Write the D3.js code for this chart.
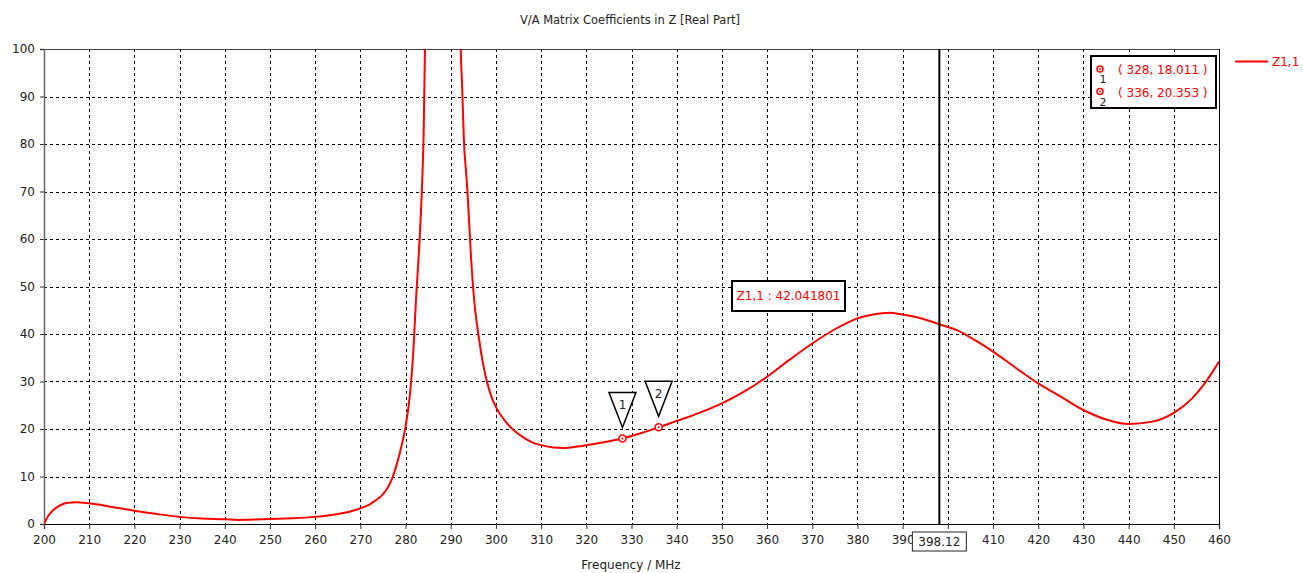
<!DOCTYPE html>
<html>
<head>
<meta charset="UTF-8">
<title>V/A Matrix Coefficients in Z [Real Part]</title>
<script src="https://d3js.org/d3.v7.min.js"></script>
<style>
    body {
        margin: 0;
        background: #fff;
        font-family: "DejaVu Sans", Tahoma, sans-serif;
    }
    .grid line {
        stroke: #000;
        stroke-dasharray: 3,3;
        shape-rendering: crispEdges;
    }
</style>
</head>
<body>
<svg id="main" width="1303" height="573"></svg>
<script>
// frequency (MHz) and Z1,1 real part
var freq = [200, 200.5, 201, 202, 203, 204, 205, 207, 210, 215, 220, 225, 230, 235, 240, 243, 245, 250, 255, 260,
    265, 268, 270, 272, 273, 274, 275, 276, 277, 278, 279, 280, 281, 281.7, 282.3, 283, 283.6, 284, 284.3,
    285, 288, 291, 292.2, 292.6, 292.9, 293.4, 293.7, 294.5, 295.2, 296.1, 297, 298, 299, 300, 302, 304, 306,
    308, 310, 312.7, 315, 318, 322, 325, 328, 332, 336, 340, 345, 350, 355, 360, 365, 370, 375, 380, 385, 387,
    390, 394, 398.12, 402, 406, 410, 415, 420, 425, 430, 435, 440, 445, 450, 454, 457, 460];
var z11 = [0, 1.0, 1.8, 2.9, 3.6, 4.1, 4.4, 4.6, 4.35, 3.6, 2.8, 2.1, 1.5, 1.15, 1.0, 0.85, 0.9, 1.05, 1.2, 1.5,
    2.1, 2.7, 3.3, 4.1, 4.7, 5.4, 6.3, 7.6, 9.5, 12.4, 16, 20.5, 27.5, 36, 47, 58, 70, 82, 100,
    160, 300, 160, 100, 90, 81, 74, 70, 56, 47, 40, 34.5, 30, 26.8, 24.6, 21.7, 19.7, 18.3,
    17.2, 16.6, 16.1, 16.0, 16.3, 16.9, 17.4, 18.011, 19.1, 20.353, 21.7, 23.4, 25.4, 27.9, 31, 34.6, 38, 41, 43.3, 44.3, 44.5,
    44.1, 43.3, 42.041801, 40.8, 38.7, 36.3, 32.9, 29.6, 26.8, 24, 22, 21.05, 21.5, 23.4, 26.4, 29.8, 34.2];

var xTicks = d3.range(200, 461, 10);
var yTicks = d3.range(0, 101, 10);

var markerNames = ["1", "2"];
var markerFreq = [328, 336];
var markerVal = [18.011, 20.353];

var cursorFreq = 398.12;
var cursorVal = 42.041801;
var seriesName = "Z1,1";

var svg = d3.select("#main");
var pl = 44, pt = 49, pr = 1219, pb = 524;

var x = d3.scaleLinear().domain([200, 460]).range([pl, pr]);
var y = d3.scaleLinear().domain([0, 100]).range([pb, pt]);

// title
svg.append("text")
    .attr("x", 630).attr("y", 24)
    .attr("text-anchor", "middle")
    .style("font-size", "11.5px").style("fill", "#222")
    .text("V/A Matrix Coefficients in Z [Real Part]");

// grid
var grid = svg.append("g").attr("class", "grid");
grid.selectAll(".vx").data(xTicks.slice(1, -1)).enter().append("line")
    .attr("x1", d => Math.round(x(d)) + 0.5).attr("x2", d => Math.round(x(d)) + 0.5)
    .attr("y1", pt).attr("y2", pb);
grid.selectAll(".hy").data(yTicks.slice(1, -1)).enter().append("line")
    .attr("y1", d => Math.round(y(d)) + 0.5).attr("y2", d => Math.round(y(d)) + 0.5)
    .attr("x1", pl).attr("x2", pr);

// frame
svg.append("line").attr("x1", pl).attr("x2", pr).attr("y1", pt + 0.5).attr("y2", pt + 0.5)
    .style("stroke", "#444").style("stroke-width", 1.2);
svg.append("line").attr("x1", pr + 0.5).attr("x2", pr + 0.5).attr("y1", pt).attr("y2", pb)
    .style("stroke", "#000");

// axes
var xAxis = svg.append("g")
    .attr("transform", "translate(0," + pb + ")")
    .call(d3.axisBottom(x).tickValues(xTicks).tickSize(5).tickPadding(6).tickFormat(d3.format("d")));
var yAxis = svg.append("g")
    .attr("transform", "translate(" + pl + ",0)")
    .call(d3.axisLeft(y).tickValues(yTicks).tickSize(4).tickPadding(5).tickFormat(d3.format("d")));
[xAxis, yAxis].forEach(function(a) {
    a.selectAll("text").style("font-size", "12px").style("fill", "#222")
        .style("font-family", "'DejaVu Sans', Tahoma, sans-serif");
    a.selectAll("line").style("stroke", "#333");
});
xAxis.select(".domain").style("stroke", "#000").style("stroke-width", 1.2);
yAxis.select(".domain").style("stroke", "#666").style("stroke-width", 1.5);

svg.append("text")
    .attr("x", 631).attr("y", 569)
    .attr("text-anchor", "middle")
    .style("font-size", "12px").style("fill", "#222")
    .text("Frequency / MHz");

// curve
svg.append("clipPath").attr("id", "plot")
    .append("rect").attr("x", pl).attr("y", pt).attr("width", pr - pl).attr("height", pb - pt);

var line = d3.line()
    .x((d, i) => x(freq[i]))
    .y(d => y(d))
    .curve(d3.curveMonotoneX);

svg.append("path")
    .datum(z11)
    .attr("clip-path", "url(#plot)")
    .attr("d", line)
    .style("fill", "none")
    .style("stroke", "#ff0000")
    .style("stroke-width", 2);

// cursor line
svg.append("line")
    .attr("x1", x(cursorFreq)).attr("x2", x(cursorFreq))
    .attr("y1", pt).attr("y2", pb)
    .style("stroke", "#000").style("stroke-width", 2);

var cg = svg.append("g");
cg.append("rect")
    .attr("x", x(cursorFreq) - 27).attr("y", 532).attr("width", 54).attr("height", 19)
    .style("fill", "#fff").style("stroke", "#222");
cg.append("text")
    .attr("x", x(cursorFreq)).attr("y", 546)
    .attr("text-anchor", "middle")
    .style("font-size", "12px").style("fill", "#222")
    .text(cursorFreq.toFixed(2));

// cursor value label
svg.append("rect")
    .attr("x", 732).attr("y", 281).attr("width", 113).attr("height", 30)
    .style("fill", "#fff").style("stroke", "#000").style("stroke-width", 2);
svg.append("text")
    .attr("x", 788.5).attr("y", 300)
    .attr("text-anchor", "middle")
    .style("font-size", "12px").style("fill", "#ff0000")
    .text(seriesName + " : " + cursorVal.toFixed(6));

// markers
var mk = svg.selectAll(".mk").data(markerFreq).enter().append("g")
    .attr("transform", (d, i) => "translate(" + x(d) + "," + y(markerVal[i]) + ")");
mk.append("circle").attr("r", 3.5)
    .style("fill", "#fff").style("stroke", "#ff0000").style("stroke-width", 1.5);
mk.append("circle").attr("r", 1).style("fill", "#ff0000");
mk.append("path")
    .attr("d", "M-13.5,-46L13.5,-46L0,-11Z")
    .style("fill", "#fff").style("stroke", "#000").style("stroke-width", 1.5);
mk.append("text")
    .attr("y", -29)
    .attr("text-anchor", "middle")
    .style("font-size", "12px").style("fill", "#222")
    .text((d, i) => markerNames[i]);

// marker table
svg.append("rect")
    .attr("x", 1091).attr("y", 56).attr("width", 125).attr("height", 52)
    .style("fill", "#fff").style("stroke", "#000").style("stroke-width", 2);
var rows = svg.selectAll(".row").data(markerFreq).enter().append("g")
    .attr("transform", (d, i) => "translate(1100," + (69 + i * 22.5) + ")");
rows.append("circle").attr("r", 3)
    .style("fill", "#fff").style("stroke", "#ff0000").style("stroke-width", 1.5);
rows.append("circle").attr("r", 1).style("fill", "#ff0000");
rows.append("text")
    .attr("x", 3).attr("y", 14)
    .attr("text-anchor", "middle")
    .style("font-size", "11px").style("fill", "#222")
    .text((d, i) => markerNames[i]);
rows.append("text")
    .attr("x", 18).attr("y", 5)
    .style("font-size", "12px").style("fill", "#ff0000")
    .text((d, i) => "( " + d + ", " + markerVal[i].toFixed(3) + " )");

// legend
svg.append("line")
    .attr("x1", 1235).attr("x2", 1268).attr("y1", 61.5).attr("y2", 61.5)
    .style("stroke", "#ff0000").style("stroke-width", 2);
svg.append("text")
    .attr("x", 1272).attr("y", 66)
    .style("font-size", "12px").style("fill", "#ff0000")
    .text(seriesName);
</script>
</body>
</html>
